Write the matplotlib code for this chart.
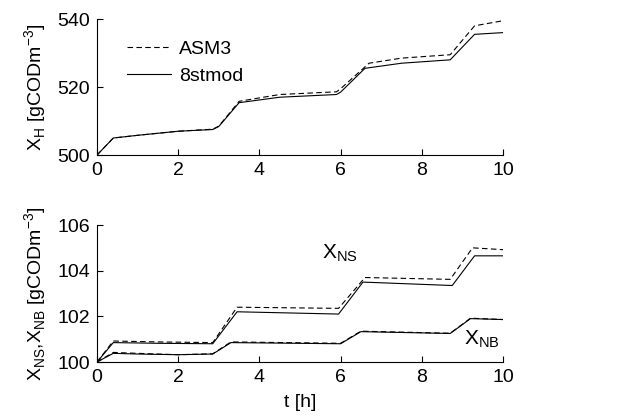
import matplotlib
matplotlib.use("Agg")
import matplotlib.pyplot as plt

# Top panel: X_H
t_xh_asm3 = [0, 0.4, 1.0, 2.0, 2.85, 3.0, 3.5, 4.5, 5.9, 6.0, 6.7, 7.5, 8.7, 9.3, 10]
xh_asm3 = [500, 505, 505.8, 507, 507.6, 508.5, 515.8, 517.8, 518.6, 519.5, 527, 528.5, 529.5, 538, 539.5]
t_xh_8st = [0, 0.4, 1.0, 2.0, 2.85, 3.0, 3.5, 4.5, 5.9, 6.0, 6.6, 7.5, 8.7, 9.3, 10]
xh_8st = [500, 505, 505.8, 507, 507.5, 508.4, 515.4, 517.0, 517.8, 518.5, 525.5, 527, 528, 535.5, 536]

# Bottom panel: X_NS and X_NB
t_ns_asm3 = [0, 0.4, 1.5, 2.85, 3.45, 5.95, 6.6, 8.7, 9.25, 10]
ns_asm3 = [100, 100.92, 100.88, 100.85, 102.4, 102.35, 103.7, 103.62, 105.0, 104.92]
t_ns_8st = [0, 0.4, 1.5, 2.85, 3.45, 5.95, 6.55, 8.75, 9.3, 10]
ns_8st = [100, 100.85, 100.82, 100.8, 102.2, 102.1, 103.5, 103.35, 104.65, 104.65]
t_nb_asm3 = [0, 0.4, 1.0, 2.0, 2.85, 3.3, 6.0, 6.5, 8.7, 9.2, 10]
nb_asm3 = [100, 100.42, 100.38, 100.32, 100.36, 100.88, 100.82, 101.35, 101.26, 101.92, 101.86]
t_nb_8st = [0, 0.4, 1.0, 2.0, 2.85, 3.3, 6.0, 6.5, 8.7, 9.2, 10]
nb_8st = [100, 100.38, 100.35, 100.32, 100.35, 100.85, 100.8, 101.33, 101.25, 101.9, 101.86]

series_labels = ["ASM3", "8stmod"]
xticks = [0, 2, 4, 6, 8, 10]

plt.rcParams['font.family'] = ['Liberation Sans', 'DejaVu Sans']
plt.rcParams['font.size'] = 14
plt.rcParams['mathtext.fontset'] = 'custom'
plt.rcParams['mathtext.rm'] = 'Liberation Sans'

fig = plt.figure(figsize=(6.26, 4.19), dpi=100)
ax1 = fig.add_axes([0.155, 0.630, 0.6485, 0.3246])
ax2 = fig.add_axes([0.155, 0.136, 0.6485, 0.327])

lw = 0.8
ax1.plot(t_xh_asm3, xh_asm3, 'k--', lw=lw, dashes=(5, 3), label=series_labels[0])
ax1.plot(t_xh_8st, xh_8st, 'k-', lw=lw, label=series_labels[1])
ax1.set_xlim(0, 10)
ax1.set_ylim(500, 540)
ax1.set_yticks([500, 520, 540])
ax1.set_ylabel(r'X$_\mathregular{H}$ [gCODm$^\mathregular{-3}$]', labelpad=6)
leg = ax1.legend(loc='upper left', bbox_to_anchor=(0.03, 0.97), frameon=False,
                 handlelength=2.3, handletextpad=0.4, labelspacing=0.45)

ax2.plot(t_ns_asm3, ns_asm3, 'k--', lw=lw, dashes=(5, 3))
ax2.plot(t_ns_8st, ns_8st, 'k-', lw=lw)
ax2.plot(t_nb_asm3, nb_asm3, 'k--', lw=lw, dashes=(5, 3))
ax2.plot(t_nb_8st, nb_8st, 'k-', lw=lw)
ax2.set_xlim(0, 10)
ax2.set_ylim(100, 106)
ax2.set_yticks([100, 102, 104, 106])
ax2.set_xlabel('t [h]', labelpad=6)
ax2.set_ylabel(r'X$_\mathregular{NS}$,X$_\mathregular{NB}$ [gCODm$^\mathregular{-3}$]', labelpad=6)
ax2.text(5.55, 104.55, r'X$_\mathregular{NS}$', fontsize=15)
ax2.text(9.05, 100.75, r'X$_\mathregular{NB}$', fontsize=15)

for ax in (ax1, ax2):
    ax.set_xticks(xticks)
    ax.spines['top'].set_visible(False)
    ax.spines['right'].set_visible(False)
    ax.tick_params(direction='in', length=4, width=0.8, pad=5)
    for s in ('left', 'bottom'):
        ax.spines[s].set_linewidth(0.8)

fig.savefig('out.png', dpi=100)
